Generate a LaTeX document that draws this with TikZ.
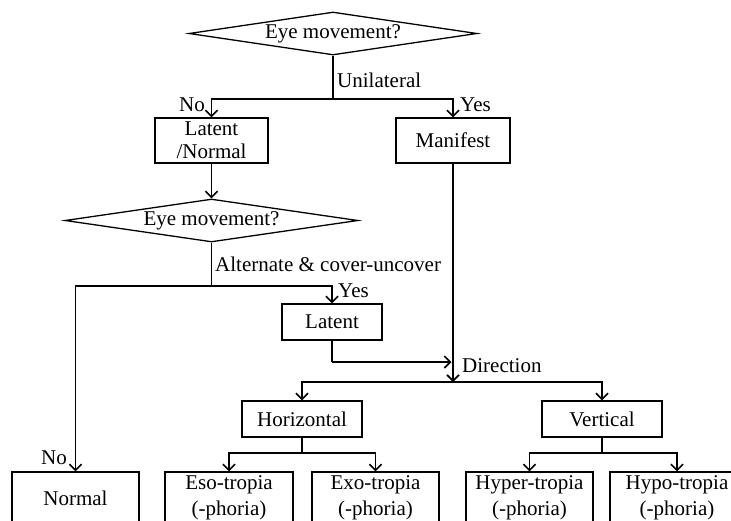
\documentclass[tikz,border=0pt]{standalone}
\usepackage{fontspec}
\setmainfont{Liberation Serif}
\usetikzlibrary{shapes.geometric,arrows.meta}
\begin{document}
\begin{tikzpicture}[x=1pt,y=-1pt,
  font=\fontsize{21}{24}\selectfont,
  box/.style={draw,line width=1.3pt,inner sep=0pt,align=center},
  dia/.style={draw,line width=1.3pt,diamond,aspect=6.7,inner sep=0pt},
  conn/.style={line width=1.6pt},
  arr/.style={line width=1.6pt,-{Straight Barb[length=6pt,width=12pt,line width=1.6pt]}},
  lbl/.style={inner sep=0pt}]
\useasboundingbox (0,0) rectangle (731,520);
% decisions
\node[dia,minimum width=288pt,minimum height=43pt] (d1) at (333,33.5) {Eye movement?};
\node[dia,minimum width=293pt,minimum height=43pt] (d2) at (211.5,220.5) {Eye movement?};
% boxes
\node[box,minimum width=113pt,minimum height=45pt,font=\fontsize{21}{23}\selectfont] (ln) at (211.5,140.5) {Latent\\/Normal};
\node[box,minimum width=114pt,minimum height=45pt] (man) at (453,140.5) {Manifest};
\node[box,minimum width=100pt,minimum height=36pt] (lat) at (332,322) {Latent};
\node[box,minimum width=120pt,minimum height=36pt] (hor) at (302,419) {Horizontal};
\node[box,minimum width=120pt,minimum height=36pt] (ver) at (602,419) {Vertical};
\node[box,minimum width=127pt,minimum height=52pt] (nor) at (75.5,498) {Normal};
\node[box,minimum width=128pt,minimum height=52pt,font=\fontsize{21}{26}\selectfont] (eso) at (229,498) {Eso-tropia\\(-phoria)};
\node[box,minimum width=127pt,minimum height=52pt,font=\fontsize{21}{26}\selectfont] (exo) at (375.5,498) {Exo-tropia\\(-phoria)};
\node[box,minimum width=127pt,minimum height=52pt,font=\fontsize{21}{26}\selectfont] (hyper) at (529.5,498) {Hyper-tropia\\(-phoria)};
\node[box,minimum width=134pt,minimum height=52pt,font=\fontsize{21}{26}\selectfont] (hypo) at (677,498) {Hypo-tropia\\(-phoria)};
% junctions
\coordinate (j1) at (333,99);
\coordinate (j2) at (211.5,286);
\coordinate (j3) at (453,382);
\coordinate (j4) at (332,362);
\coordinate (j5) at (451.5,362);
\coordinate (j6) at (302,453);
\coordinate (j7) at (602,453);
% connectors
\draw[conn] (d1.south) -- (j1);
\draw[arr] (j1) -| (ln.north);
\draw[arr] (j1) -| (man.north);
\draw[arr] (ln.south) -- (d2.north);
\draw[conn] (d2.south) -- (j2);
\draw[arr] (j2) -| (nor.north);
\draw[arr] (j2) -| (lat.north);
\draw[conn] (lat.south) -- (j4);
\draw[arr] (j4) -- (j5);
\draw[arr] (man.south) -- (j3);
\draw[arr] (j3) -| (hor.north);
\draw[arr] (j3) -| (ver.north);
\draw[conn] (hor.south) -- (j6);
\draw[arr] (j6) -| (eso.north);
\draw[arr] (j6) -| (exo.north);
\draw[conn] (ver.south) -- (j7);
\draw[arr] (j7) -| (hyper.north);
\draw[arr] (j7) -| (hypo.north);
% labels
\node[lbl,anchor=west] (l1) at (337,80) {Unilateral};
\node[lbl,anchor=east] (l2) at (205,105) {No};
\node[lbl,anchor=west] (l3) at (460,105) {Yes};
\node[lbl,anchor=west] (l4) at (215,264) {Alternate \& cover-uncover};
\node[lbl,anchor=west] (l5) at (338,291) {Yes};
\node[lbl,anchor=west] (l6) at (462,366) {Direction};
\node[lbl,anchor=east] (l7) at (67,458) {No};
\end{tikzpicture}
\end{document}
